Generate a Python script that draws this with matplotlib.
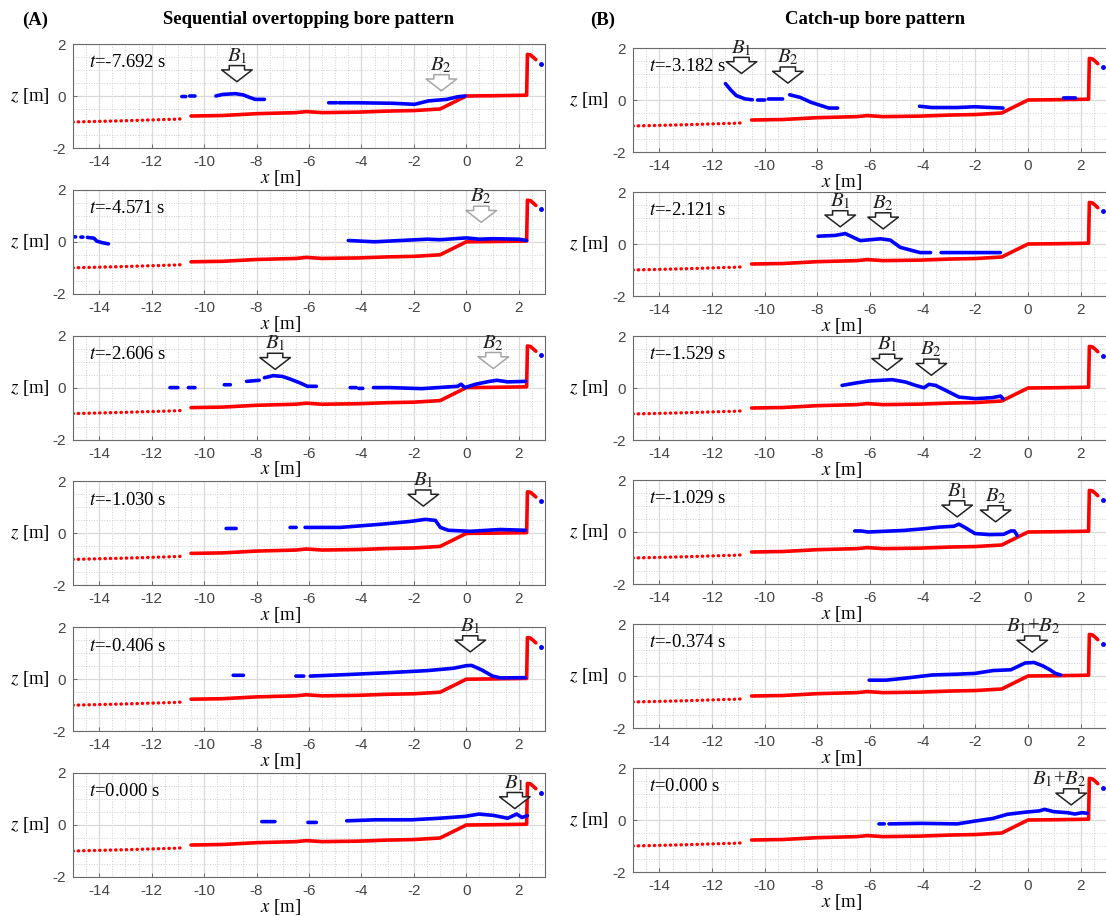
import numpy as np
import matplotlib.pyplot as plt
from matplotlib.ticker import MultipleLocator

nan = np.nan

# ==========================================================
# Bed profile (same in every panel)
# ==========================================================

bed_off_x = [-15.0, -13.0, -11.0, -10.75]
bed_off_z = [-1.00, -0.95, -0.89, -0.87]

bed_x = [-10.5, -9.3, -8.0, -6.5, -6.1, -5.5, -4.1, -3.0, -2.0, -1.0,
         0.0, 1.0, 2.3, 2.33, 2.45, 2.65]
bed_z = [-0.77, -0.75, -0.68, -0.64, -0.60, -0.64, -0.62, -0.58, -0.56, -0.50,
         0.0, 0.01, 0.03, 1.60, 1.58, 1.40]

tip_x = [2.83]
tip_z = [1.25]

# ==========================================================
# Water surface, column A (sequential overtopping)
# ==========================================================

a1_x = [-10.85, -10.7, nan, -10.55, -10.35, nan,
        -9.55, -9.3, -8.8, -8.5, -8.25, -8.05, -7.7, nan,
        -5.25, -4.95, nan, -4.85, -4.15, -2.8, -1.97, -1.45, -0.75, -0.33, -0.05]
a1_z = [-0.02, -0.02, nan, 0.0, 0.0, nan,
        0.0, 0.06, 0.09, 0.04, -0.06, -0.13, -0.13, nan,
        -0.26, -0.26, nan, -0.26, -0.26, -0.28, -0.32, -0.19, -0.13, -0.03, 0.0]

a2_x = [-15.0, -14.9, nan, -14.7, -14.62, nan,
        -14.45, -14.2, -14.1, -13.9, -13.65, nan,
        -4.5, -3.5, -2.5, -1.5, -1.0, 0.0, 0.5, 1.0, 2.0, 2.3]
a2_z = [0.19, 0.19, nan, 0.18, 0.18, nan,
        0.17, 0.14, 0.03, -0.03, -0.08, nan,
        0.05, 0.0, 0.05, 0.10, 0.08, 0.15, 0.10, 0.12, 0.10, 0.05]

a3_x = [-11.3, -11.0, nan, -10.6, -10.35, nan, -9.23, -9.0, nan,
        -8.38, -7.9, nan, -7.7, -7.36, -7.02, -6.75, -6.34, -6.06, -5.72, nan,
        -4.43, -4.2, nan, -4.1, -3.95, nan,
        -3.54, -2.93, -1.7, -0.33, -0.2, -0.06, 0.35, 0.89, 1.17, 1.58, 2.26]
a3_z = [0.0, 0.0, nan, 0.0, 0.0, nan, 0.11, 0.11, nan,
        0.24, 0.28, nan, 0.38, 0.46, 0.43, 0.34, 0.18, 0.05, 0.05, nan,
        0.0, 0.0, nan, -0.03, -0.03, nan,
        0.0, 0.0, -0.04, 0.05, 0.13, 0.0, 0.13, 0.24, 0.28, 0.22, 0.24]

a4_x = [-9.16, -8.78, nan, -6.72, -6.49, nan,
        -6.15, -4.81, -3.28, -2.14, -1.56, -1.18, -0.99, -0.69, 0.15, 1.3, 2.25]
a4_z = [0.19, 0.19, nan, 0.23, 0.23, nan,
        0.23, 0.23, 0.35, 0.46, 0.54, 0.50, 0.23, 0.12, 0.08, 0.15, 0.12]

a5_x = [-8.89, -8.5, nan, -6.5, -6.2, nan,
        -5.95, -4.5, -3.0, -1.5, -0.5, 0.0, 0.2, 0.6, 1.0, 1.3, 2.25]
a5_z = [0.15, 0.15, nan, 0.12, 0.12, nan,
        0.12, 0.18, 0.25, 0.33, 0.42, 0.52, 0.53, 0.35, 0.12, 0.05, 0.06]

a6_x = [-7.8, -7.3, nan, -6.04, -5.72, nan,
        -4.56, -3.47, -2.1, -1.02, -0.06, 0.48, 1.03, 1.58, 1.92, 2.12, 2.33]
a6_z = [0.13, 0.13, nan, 0.10, 0.10, nan,
        0.16, 0.20, 0.20, 0.26, 0.33, 0.42, 0.37, 0.26, 0.42, 0.29, 0.36]

# ==========================================================
# Water surface, column B (catch-up)
# ==========================================================

b1_x = [-11.49, -11.29, -11.08, -10.74, -10.47, nan,
        -10.27, -10.0, nan, -9.86, -9.32, nan,
        -9.05, -8.65, -8.24, -7.84, -7.57, -7.23, nan,
        -4.12, -3.65, -2.7, -2.03, -0.95, nan, 1.35, 1.8]
b1_z = [0.63, 0.39, 0.17, 0.04, 0.01, nan,
        0.0, 0.0, nan, 0.04, 0.04, nan,
        0.20, 0.10, -0.09, -0.22, -0.31, -0.31, nan,
        -0.24, -0.29, -0.29, -0.26, -0.31, nan, 0.08, 0.08]

b2_x = [-7.97, -7.32, -6.94, -6.37, -5.6, -5.23, -4.85, -4.1, -3.7, nan,
        -3.3, -2.0, -1.05]
b2_z = [0.30, 0.33, 0.40, 0.13, 0.20, 0.15, -0.13, -0.33, -0.33, nan,
        -0.33, -0.33, -0.33]

b3_x = [-7.06, -6.55, -6.04, -5.16, -4.65, -4.27, -3.95, -3.76, -3.51,
        -3.13, -2.62, -1.99, -1.35, -1.04, -0.95]
b3_z = [0.10, 0.19, 0.27, 0.32, 0.23, 0.10, 0.01, 0.14, 0.10,
        -0.09, -0.35, -0.41, -0.37, -0.31, -0.41]

b4_x = [-6.58, -6.34, -6.07, -4.72, -3.9, -3.36, -2.82, -2.62, -2.42,
        -2.01, -1.47, -0.93, -0.65, -0.52, -0.41]
b4_z = [0.04, 0.04, 0.0, 0.06, 0.13, 0.19, 0.22, 0.30, 0.19,
        -0.06, -0.10, -0.09, 0.04, 0.04, -0.13]

b5_x = [-6.03, -5.39, -4.72, -3.63, -2.69, -2.01, -1.33, -0.65, -0.38,
        -0.11, 0.23, 0.56, 0.83, 1.04, 1.24]
b5_z = [-0.16, -0.16, -0.09, 0.04, 0.07, 0.10, 0.21, 0.24, 0.37,
        0.50, 0.52, 0.39, 0.24, 0.10, 0.04]

b6_x = [-5.66, -5.46, nan, -5.28, -4.04, -2.69, -2.01, -1.33, -0.78,
        -0.11, 0.43, 0.63, 0.97, 1.51, 1.78, 2.05, 2.25]
b6_z = [-0.15, -0.15, nan, -0.15, -0.13, -0.15, -0.04, 0.06, 0.22,
        0.30, 0.35, 0.41, 0.32, 0.28, 0.23, 0.28, 0.26]

# ==========================================================
# Time stamps and bore markers (x, tip z, label, grey?, label x)
# ==========================================================

times_a = ["-7.692", "-4.571", "-2.606", "-1.030", "-0.406", "0.000"]
times_b = ["-3.182", "-2.121", "-1.529", "-1.029", "-0.374", "0.000"]

B1 = r"$B_1$"
B2 = r"$B_2$"
B12 = r"$B_1$+$B_2$"

arrows_a = [
    [(-8.75, 0.55, B1, False, -8.75), (-0.95, 0.2, B2, True, -0.95)],
    [(0.57, 0.75, B2, True, 0.57)],
    [(-7.29, 0.70, B1, False, -7.29), (1.03, 0.73, B2, True, 1.03)],
    [(-1.64, 1.05, B1, False, -1.64)],
    [(0.15, 1.05, B1, False, 0.15)],
    [(1.85, 0.63, B1, False, 1.85)],
]

arrows_b = [
    [(-10.88, 1.02, B1, False, -10.88), (-9.12, 0.65, B2, False, -9.12)],
    [(-7.13, 0.66, B1, False, -7.13), (-5.5, 0.58, B2, False, -5.5)],
    [(-5.35, 0.68, B1, False, -5.35), (-3.67, 0.49, B2, False, -3.67)],
    [(-2.69, 0.58, B1, False, -2.69), (-1.23, 0.39, B2, False, -1.23)],
    [(0.16, 0.92, B12, False, 0.2)],
    [(1.64, 0.58, B12, False, 1.2)],
]

surf_a = [(a1_x, a1_z), (a2_x, a2_z), (a3_x, a3_z),
          (a4_x, a4_z), (a5_x, a5_z), (a6_x, a6_z)]
surf_b = [(b1_x, b1_z), (b2_x, b2_z), (b3_x, b3_z),
          (b4_x, b4_z), (b5_x, b5_z), (b6_x, b6_z)]

# ==========================================================
# Figure
# ==========================================================

plt.rcParams["font.family"] = ["Liberation Serif", "DejaVu Serif"]
plt.rcParams["mathtext.fontset"] = "stix"
plt.rcParams["axes.unicode_minus"] = False

W, H = 1106, 916
fig = plt.figure(figsize=(W / 100, H / 100), dpi=100)

tops_a = [44, 189.8, 335.6, 481.4, 627.2, 773]
tops_b = [48, 192, 336, 480, 624, 768]
ax_h = 104


def draw_panel(ax, surf, stamp, arrows):
    ax.set_xlim(-15, 3)
    ax.set_ylim(-2, 2)

    ax.xaxis.set_major_locator(MultipleLocator(2))
    ax.xaxis.set_minor_locator(MultipleLocator(0.5))
    ax.yaxis.set_major_locator(MultipleLocator(2))
    ax.yaxis.set_minor_locator(MultipleLocator(0.5))

    ax.grid(which="major", color="#d9d9d9", lw=0.9, ls="-")
    ax.grid(which="minor", color="#cfcfcf", lw=0.7, ls=":")
    ax.set_axisbelow(True)

    ax.tick_params(which="major", direction="in", length=3, width=0.6,
                   color="#555555", labelsize=11, labelcolor="#444444",
                   labelfontfamily="Liberation Sans", pad=5)
    ax.tick_params(which="minor", length=0)
    for s in ax.spines.values():
        s.set_color("#6a6a6a")
        s.set_linewidth(0.8)

    # bed
    ax.plot(bed_off_x, bed_off_z, color="red", lw=2.4,
            ls=(0, (0.1, 1.5)), dash_capstyle="round")
    ax.plot(bed_x, bed_z, color="red", lw=2.6, solid_capstyle="round")
    ax.plot(tip_x, tip_z, "o", color="blue", ms=2.5)

    # water surface
    ax.plot(surf[0], surf[1], color="blue", lw=2.6, solid_capstyle="round")

    ax.text(-14.4, 1.27, r"$t$=" + stamp + " s", fontsize=13.5,
            ha="left", va="center")

    for (x, ztip, lab, grey, lx) in arrows:
        ec = "#a6a6a6" if grey else "#222222"
        ax.annotate("", xy=(x, ztip), xytext=(x, ztip + 0.62),
                    arrowprops=dict(
                        arrowstyle="simple,head_length=8.5,head_width=22,tail_width=11",
                        mutation_scale=1, fc="white", ec=ec, lw=1.1,
                        shrinkA=0, shrinkB=0))
        ax.text(lx, ztip + 0.6, lab, fontsize=15, ha="center",
                va="bottom", color="#222222", clip_on=False)

    ax.set_xlabel(r"$x$ [m]", fontsize=13.5)
    ax.xaxis.set_label_coords(0.44, -0.19)
    ax.set_ylabel(r"$z$ [m]", fontsize=13.5, rotation=0, va="center")


for i in range(6):
    bottom = 1 - (tops_a[i] + ax_h) / H
    ax = fig.add_axes([73 / W, bottom, 472 / W, ax_h / H])
    draw_panel(ax, surf_a[i], times_a[i], arrows_a[i])
    ax.yaxis.set_label_coords(-0.092, 0.5)

    bottom = 1 - (tops_b[i] + ax_h) / H
    ax = fig.add_axes([633 / W, bottom, 474 / W, ax_h / H])
    draw_panel(ax, surf_b[i], times_b[i], arrows_b[i])
    ax.yaxis.set_label_coords(-0.094, 0.5)

fig.text(35 / W, 1 - 20 / H, "(A)", fontsize=13.5, fontweight="bold",
         ha="center", va="center")
fig.text(309 / W, 1 - 20 / H, "Sequential overtopping bore pattern",
         fontsize=13.5, fontweight="bold", ha="center", va="center")
fig.text(603 / W, 1 - 20 / H, "(B)", fontsize=13.5, fontweight="bold",
         ha="center", va="center")
fig.text(875 / W, 1 - 20 / H, "Catch-up bore pattern",
         fontsize=13.5, fontweight="bold", ha="center", va="center")

fig.savefig("out.png", dpi=100)
